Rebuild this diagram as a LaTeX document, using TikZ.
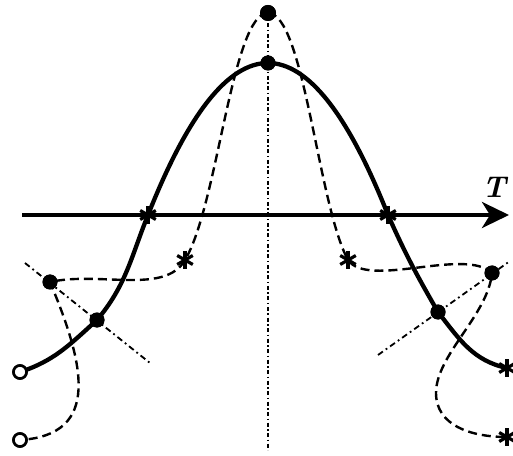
\documentclass[tikz,border=0pt]{standalone}
\usepackage{tikz}
\usetikzlibrary{arrows.meta}
\tikzset{
  solidcurve/.style={line width=4.3pt},
  dashcurve/.style={line width=2.4pt,dash pattern=on 9pt off 5pt},
  dashdotline/.style={line width=1.8pt,dash pattern=on 6pt off 3.5pt on 1.8pt off 3.5pt},
  midline/.style={line width=1.6pt,dash pattern=on 4pt off 2.5pt on 1.5pt off 2.5pt},
  fulldot/.style={circle,fill,inner sep=0pt,minimum size=15pt},
  opendot/.style={circle,draw,fill=white,line width=2.6pt,inner sep=0pt,minimum size=13pt},
  starpt/.style={inner sep=0pt,minimum size=24pt,
    path picture={\foreach \a in {90,30,150}
      \draw[line width=3.2pt] ([shift={(\a:9pt)}]path picture bounding box.center)
        -- ([shift={(\a+180:9pt)}]path picture bounding box.center);}}
}
\begin{document}
\begin{tikzpicture}[x=1pt,y=1pt]
\useasboundingbox (0,0) rectangle (513,455);
% points
\node[opendot] (OL1) at (20,83) {};
\node[opendot] (OL2) at (20,15) {};
\node[fulldot] (DL) at (97,135) {};
\node[fulldot] (DLd) at (50,173) {};
\node[fulldot] (P) at (268,392) {};
\node[fulldot,minimum size=16pt] (TD) at (268,442) {};
\node[fulldot] (DR) at (438,143) {};
\node[fulldot] (DRd) at (492,182) {};
\coordinate (RB) at (436,62);
\coordinate (VB) at (268,5);
\coordinate (LA) at (25,192);
\coordinate (LB) at (150,92);
\coordinate (RA) at (378,100);
\coordinate (RZ) at (510,194);
\coordinate (T0) at (22,240);
\coordinate (T1) at (509,240);
% axis
\draw[line width=4pt,-{Stealth[length=27pt,width=26pt,inset=8pt]}] (T0) -- (T1);
\node (Tlab) at (494,268) {\fontsize{30}{30}\selectfont\bfseries\itshape T};
\draw[midline] (TD.center) -- (VB);
\draw[dashdotline] (LA) -- (LB);
\draw[dashdotline] (RA) -- (RZ);
% solid curve
\draw[solidcurve] (OL1.center) to[out=18,in=222] (DL.center) to[out=50,in=248] (148,240)
  coordinate (SL) .. controls (188,341) and (228,392) .. (P.center)
  .. controls (308,392) and (348,341) .. (388,240) coordinate (SR)
  to[out=-66,in=120] (DR.center) to[out=-52,in=168] (507,87) coordinate (ER);
% dashed curve
\draw[dashcurve] (TD.center) .. controls (232,442) and (218,250) .. (185,195) coordinate (SLd)
  .. controls (165,160) and (100,184) .. (DLd.center)
  .. controls (84,92) and (102,20) .. (OL2.center);
\draw[dashcurve] (TD.center) .. controls (304,442) and (318,250) .. (348,195) coordinate (SRd)
  .. controls (368,166) and (465,208) .. (DRd.center)
  .. controls (488,140) and (436,100) .. (RB)
  .. controls (436,30) and (470,18) .. (507,18) coordinate (ERd);
% markers on top
\node[opendot] (OL1m) at (OL1) {};
\node[opendot] (OL2m) at (OL2) {};
\node[fulldot] (DLm) at (DL) {};
\node[fulldot] (DLdm) at (DLd) {};
\node[fulldot] (Pm) at (P) {};
\node[fulldot,minimum size=16pt] (TDm) at (TD) {};
\node[fulldot] (DRm) at (DR) {};
\node[fulldot] (DRdm) at (DRd) {};
\node[starpt] (SLs) at (SL) {};
\node[starpt] (SRs) at (SR) {};
\node[starpt] (ERs) at (ER) {};
\node[starpt] (SLds) at (SLd) {};
\node[starpt] (SRds) at (SRd) {};
\node[starpt] (ERds) at (ERd) {};
\end{tikzpicture}
\end{document}
